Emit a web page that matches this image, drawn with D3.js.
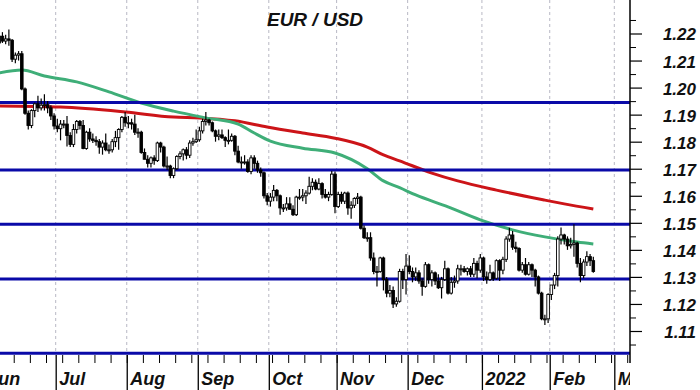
<!DOCTYPE html>
<html>
<head>
<meta charset="utf-8">
<script src="https://cdn.jsdelivr.net/npm/d3@7"></script>
<style>
  body { margin: 0; background: #fff; }
  text { font-family: "Liberation Sans", Arial, sans-serif; font-weight: bold; font-style: italic; fill: #111; }
</style>
</head>
<body>
<svg id="chart" width="700" height="390"></svg>
<script>
// daily bars [open, high, low, close], one array per month
const jun21 = [
  [1.2165,1.2200,1.2155,1.2190],[1.2190,1.2205,1.2165,1.2172],[1.2172,1.2195,1.2160,1.2180],
  [1.2180,1.2215,1.2155,1.2175],[1.2175,1.2180,1.2095,1.2105],[1.2105,1.2130,1.2090,1.2120],
  [1.2120,1.2135,1.2100,1.2125],[1.2125,1.2135,1.1990,1.1995],[1.1995,1.2000,1.1900,1.1905],
  [1.1905,1.1915,1.1845,1.1860],[1.1860,1.1920,1.1850,1.1915],[1.1915,1.1945,1.1890,1.1940],
  [1.1940,1.1970,1.1910,1.1925],[1.1925,1.1960,1.1915,1.1935],[1.1935,1.1975,1.1915,1.1937],
  [1.1937,1.1950,1.1905,1.1925],[1.1925,1.1935,1.1880,1.1895],[1.1895,1.1905,1.1845,1.1858]
];
const jul21 = [
  [1.1858,1.1885,1.1835,1.1848],[1.1848,1.1880,1.1805,1.1865],[1.1865,1.1880,1.1850,1.1865],
  [1.1865,1.1895,1.1782,1.1823],[1.1823,1.1835,1.1780,1.1790],[1.1790,1.1865,1.1780,1.1845],
  [1.1845,1.1880,1.1830,1.1875],[1.1875,1.1880,1.1845,1.1860],[1.1860,1.1880,1.1772,1.1775],
  [1.1775,1.1840,1.1770,1.1835],[1.1835,1.1850,1.1800,1.1810],[1.1810,1.1830,1.1795,1.1805],
  [1.1805,1.1820,1.1785,1.1800],[1.1800,1.1810,1.1755,1.1780],[1.1780,1.1805,1.1752,1.1795],
  [1.1795,1.1830,1.1765,1.1770],[1.1770,1.1790,1.1755,1.1770],[1.1770,1.1810,1.1760,1.1800],
  [1.1800,1.1840,1.1780,1.1815],[1.1815,1.1850,1.1770,1.1845],[1.1845,1.1895,1.1835,1.1890],
  [1.1890,1.1910,1.1855,1.1870]
];
const aug21 = [
  [1.1870,1.1895,1.1850,1.1870],[1.1870,1.1885,1.1845,1.1865],[1.1865,1.1900,1.1825,1.1835],
  [1.1835,1.1850,1.1815,1.1835],[1.1835,1.1840,1.1755,1.1760],[1.1760,1.1775,1.1735,1.1735],
  [1.1735,1.1750,1.1705,1.1720],[1.1720,1.1745,1.1705,1.1740],[1.1740,1.1750,1.1715,1.1730],
  [1.1730,1.1800,1.1725,1.1795],[1.1795,1.1800,1.1760,1.1780],[1.1780,1.1785,1.1705,1.1710],
  [1.1710,1.1745,1.1695,1.1710],[1.1710,1.1715,1.1665,1.1675],[1.1675,1.1705,1.1665,1.1700],
  [1.1700,1.1750,1.1695,1.1745],[1.1745,1.1765,1.1735,1.1755],[1.1755,1.1775,1.1730,1.1770],
  [1.1770,1.1780,1.1735,1.1750],[1.1750,1.1805,1.1740,1.1795],[1.1795,1.1815,1.1785,1.1800],
  [1.1800,1.1845,1.1795,1.1807]
];
const sep21 = [
  [1.1807,1.1855,1.1800,1.1840],[1.1840,1.1885,1.1830,1.1875],[1.1875,1.1910,1.1860,1.1880],
  [1.1880,1.1885,1.1860,1.1870],[1.1870,1.1875,1.1835,1.1840],[1.1840,1.1845,1.1800,1.1820],
  [1.1820,1.1845,1.1805,1.1825],[1.1825,1.1845,1.1810,1.1815],[1.1815,1.1820,1.1780,1.1805],
  [1.1805,1.1845,1.1790,1.1805],[1.1805,1.1830,1.1800,1.1820],[1.1820,1.1825,1.1750,1.1765],
  [1.1765,1.1785,1.1720,1.1725],[1.1725,1.1745,1.1700,1.1725],[1.1725,1.1750,1.1715,1.1725],
  [1.1725,1.1735,1.1685,1.1690],[1.1690,1.1750,1.1680,1.1740],[1.1740,1.1750,1.1700,1.1720],
  [1.1720,1.1730,1.1685,1.1695],[1.1695,1.1705,1.1670,1.1685],[1.1685,1.1690,1.1590,1.1600],
  [1.1600,1.1610,1.1565,1.1580]
];
const oct21 = [
  [1.1580,1.1610,1.1560,1.1595],[1.1595,1.1640,1.1580,1.1620],[1.1620,1.1625,1.1580,1.1600],
  [1.1600,1.1605,1.1530,1.1555],[1.1555,1.1570,1.1540,1.1555],[1.1555,1.1595,1.1545,1.1570],
  [1.1570,1.1595,1.1550,1.1550],[1.1550,1.1565,1.1525,1.1530],[1.1530,1.1600,1.1525,1.1595],
  [1.1595,1.1625,1.1585,1.1595],[1.1595,1.1625,1.1580,1.1600],[1.1600,1.1620,1.1570,1.1610],
  [1.1610,1.1670,1.1605,1.1635],[1.1635,1.1665,1.1620,1.1650],[1.1650,1.1660,1.1620,1.1625],
  [1.1625,1.1665,1.1620,1.1645],[1.1645,1.1650,1.1590,1.1605],[1.1605,1.1625,1.1590,1.1595],
  [1.1595,1.1615,1.1580,1.1605],[1.1605,1.1692,1.1600,1.1680],[1.1680,1.1690,1.1535,1.1560]
];
const nov21 = [
  [1.1560,1.1615,1.1555,1.1605],[1.1605,1.1615,1.1570,1.1580],[1.1580,1.1615,1.1570,1.1610],
  [1.1610,1.1616,1.1530,1.1555],[1.1555,1.1580,1.1515,1.1565],[1.1565,1.1595,1.1555,1.1590],
  [1.1590,1.1610,1.1570,1.1595],[1.1595,1.1600,1.1475,1.1480],[1.1480,1.1490,1.1440,1.1445],
  [1.1445,1.1465,1.1430,1.1445],[1.1445,1.1465,1.1360,1.1370],[1.1370,1.1390,1.1310,1.1320],
  [1.1320,1.1340,1.1265,1.1320],[1.1320,1.1375,1.1315,1.1370],[1.1370,1.1375,1.1250,1.1290],
  [1.1290,1.1300,1.1225,1.1240],[1.1240,1.1270,1.1225,1.1250],[1.1250,1.1265,1.1185,1.1200],
  [1.1200,1.1225,1.1190,1.1210],[1.1210,1.1330,1.1205,1.1320],[1.1320,1.1330,1.1255,1.1290],
  [1.1290,1.1385,1.1235,1.1340]
];
const dec21 = [
  [1.1340,1.1380,1.1310,1.1320],[1.1320,1.1335,1.1280,1.1300],[1.1300,1.1335,1.1285,1.1315],
  [1.1315,1.1325,1.1275,1.1285],[1.1285,1.1295,1.1230,1.1265],[1.1265,1.1355,1.1260,1.1345],
  [1.1345,1.1350,1.1275,1.1290],[1.1290,1.1325,1.1265,1.1315],[1.1315,1.1320,1.1270,1.1285],
  [1.1285,1.1310,1.1255,1.1260],[1.1260,1.1300,1.1220,1.1290],[1.1290,1.1360,1.1285,1.1330],
  [1.1330,1.1335,1.1235,1.1240],[1.1240,1.1300,1.1235,1.1280],[1.1280,1.1305,1.1260,1.1285],
  [1.1285,1.1345,1.1275,1.1330],[1.1330,1.1345,1.1305,1.1330],[1.1330,1.1340,1.1315,1.1320],
  [1.1320,1.1335,1.1305,1.1330],[1.1330,1.1340,1.1300,1.1310],[1.1310,1.1370,1.1300,1.1350],
  [1.1350,1.1360,1.1295,1.1325],[1.1325,1.1385,1.1315,1.1370]
];
const jan22 = [
  [1.1370,1.1375,1.1285,1.1300],[1.1300,1.1320,1.1275,1.1290],[1.1290,1.1345,1.1285,1.1315],
  [1.1315,1.1320,1.1285,1.1295],[1.1295,1.1365,1.1290,1.1360],[1.1360,1.1365,1.1285,1.1325],
  [1.1325,1.1375,1.1310,1.1365],[1.1365,1.1450,1.1355,1.1440],[1.1440,1.1482,1.1430,1.1455],
  [1.1455,1.1470,1.1400,1.1410],[1.1410,1.1430,1.1390,1.1405],[1.1405,1.1410,1.1320,1.1325],
  [1.1325,1.1355,1.1315,1.1345],[1.1345,1.1370,1.1305,1.1310],[1.1310,1.1355,1.1305,1.1345],
  [1.1345,1.1350,1.1300,1.1325],[1.1325,1.1330,1.1265,1.1300],[1.1300,1.1305,1.1235,1.1240],
  [1.1240,1.1245,1.1140,1.1145],[1.1145,1.1160,1.1122,1.1145],[1.1145,1.1240,1.1130,1.1235]
];
const feb22 = [
  [1.1235,1.1270,1.1215,1.1270],[1.1270,1.1315,1.1255,1.1305],[1.1305,1.1450,1.1265,1.1440],
  [1.1440,1.1483,1.1420,1.1455],[1.1455,1.1460,1.1420,1.1440],[1.1440,1.1450,1.1400,1.1415],
  [1.1415,1.1445,1.1405,1.1420],[1.1420,1.1495,1.1375,1.1425],[1.1425,1.1430,1.1335,1.1350],
  [1.1350,1.1370,1.1280,1.1305],[1.1305,1.1365,1.1295,1.1355],[1.1355,1.1395,1.1340,1.1375],
  [1.1375,1.1385,1.1340,1.1360],[1.1360,1.1375,1.1315,1.1320]
];
const firstBarDate = "2021-06-07";

// moving averages
const greenDates = ["2021-06-07","2021-06-16","2021-06-25","2021-07-09","2021-07-23","2021-08-06",
  "2021-08-20","2021-09-03","2021-09-17","2021-09-24","2021-10-01","2021-10-15","2021-10-29",
  "2021-11-12","2021-11-19","2021-11-26","2021-12-03","2021-12-17","2021-12-31","2022-01-14",
  "2022-01-28","2022-02-11","2022-02-18"];
const greenMA = [1.2054,1.2065,1.2043,1.2021,1.1984,1.1943,1.1913,1.1888,1.1865,1.1832,1.1802,
  1.1776,1.1758,1.1700,1.1655,1.1630,1.1603,1.1559,1.1511,1.1474,1.1448,1.1429,1.1422];
const redDates = ["2021-06-07","2021-07-02","2021-07-30","2021-08-20","2021-09-01","2021-09-16",
  "2021-09-30","2021-10-15","2021-10-29","2021-11-12","2021-11-19","2021-11-26","2021-12-10",
  "2021-12-22","2022-01-07","2022-01-28","2022-02-07","2022-02-18"];
const redMA = [1.1932,1.1928,1.1910,1.1891,1.1888,1.1877,1.1854,1.1832,1.1813,1.1780,1.1751,
  1.1729,1.1684,1.1655,1.1621,1.1584,1.1570,1.1551];

// horizontal levels, y ticks
const levels = [1.1945, 1.1695, 1.1495, 1.1292, 1.1018];
const majorTicks = [1.11,1.12,1.13,1.14,1.15,1.16,1.17,1.18,1.19,1.20,1.21,1.22];
const minorTicks = [1.105,1.115,1.125,1.135,1.145,1.155,1.165,1.175,1.185,1.195,1.205,1.215,1.225];
const monthNames = ["Jan","Feb","Mar","Apr","May","Jun","Jul","Aug","Sep","Oct","Nov","Dec"];

const plotRight = 630;
const plotBottom = 354;

const parse = d3.timeParse("%Y-%m-%d");
const days = d3.timeDay.range(new Date(2021, 5, 1), new Date(2022, 3, 1))
  .filter((d) => d.getDay() !== 0 && d.getDay() !== 6);
const dayIndex = (s) => {
  const t = +parse(s);
  return days.findIndex((d) => +d === t);
};

const start = dayIndex(firstBarDate);
const bars = [].concat(jun21, jul21, aug21, sep21, oct21, nov21, dec21, jan22, feb22)
  .map((b, i) => ({ i: start + i, o: b[0], h: b[1], l: b[2], c: b[3] }));

const x = d3.scaleLinear()
  .domain([dayIndex("2021-07-01"), dayIndex("2022-03-01")])
  .range([55.7, 614.3]);
const y = d3.scaleLinear().domain([1.11, 1.22]).range([331, 33.5]);

const svg = d3.select("#chart");
svg.append("rect").attr("width", 700).attr("height", 390).attr("fill", "#fff");

svg.append("defs").append("clipPath").attr("id", "clip")
  .append("rect").attr("x", 0).attr("y", 0).attr("width", plotRight).attr("height", 390);

const plot = svg.append("g").attr("clip-path", "url(#clip)");

const monthStarts = days.map((d, i) => i).filter((i) => i === 0 || days[i].getMonth() !== days[i - 1].getMonth());
const mondays = days.map((d, i) => i).filter((i) => days[i].getDay() === 1);

// month gridlines
plot.selectAll(".grid")
  .data(monthStarts)
  .enter()
  .append("line")
  .attr("x1", (d) => x(d))
  .attr("x2", (d) => x(d))
  .attr("y1", 0)
  .attr("y2", plotBottom)
  .attr("stroke", "#b8b8c4")
  .attr("stroke-width", 1)
  .attr("stroke-dasharray", "3,3");

// moving averages
const maLine = d3.line()
  .x((d) => x(d[0] + 0.5))
  .y((d) => y(d[1]))
  .curve(d3.curveMonotoneX);

plot.append("path")
  .datum(redDates.map((s, k) => [dayIndex(s), redMA[k]]))
  .attr("d", maLine)
  .attr("fill", "none")
  .attr("stroke", "#cc1418")
  .attr("stroke-width", 3);

plot.append("path")
  .datum(greenDates.map((s, k) => [dayIndex(s), greenMA[k]]))
  .attr("d", maLine)
  .attr("fill", "none")
  .attr("stroke", "#3fae78")
  .attr("stroke-width", 3);

// level lines
plot.selectAll(".level")
  .data(levels)
  .enter()
  .append("line")
  .attr("x1", 0)
  .attr("x2", plotRight)
  .attr("y1", (d) => y(d))
  .attr("y2", (d) => y(d))
  .attr("stroke", "#0a0aa8")
  .attr("stroke-width", 3);

// candles
const candle = plot.selectAll(".bar")
  .data(bars)
  .enter()
  .append("g");

candle.append("line")
  .attr("x1", (d) => x(d.i + 0.5))
  .attr("x2", (d) => x(d.i + 0.5))
  .attr("y1", (d) => y(d.h))
  .attr("y2", (d) => y(d.l))
  .attr("stroke", "#000")
  .attr("stroke-width", 1.2);

candle.append("rect")
  .attr("x", (d) => x(d.i + 0.5) - 1.3)
  .attr("y", (d) => y(Math.max(d.o, d.c)))
  .attr("width", 2.6)
  .attr("height", (d) => Math.max(1, Math.abs(y(d.o) - y(d.c))))
  .attr("fill", (d) => (d.c >= d.o ? "#fff" : "#000"))
  .attr("stroke", "#000")
  .attr("stroke-width", 0.9);

// x axis: weekly ticks + month ticks with labels
const xMinor = d3.axisBottom(x).tickValues(mondays).tickSize(8).tickFormat("");
plot.append("g")
  .attr("transform", `translate(0, ${plotBottom + 1})`)
  .call(xMinor)
  .call((g) => g.select(".domain").remove());

const xMajor = d3.axisBottom(x)
  .tickValues(monthStarts)
  .tickSize(36)
  .tickFormat((i) => (days[i].getMonth() === 0 ? String(days[i].getFullYear()) : monthNames[days[i].getMonth()]));

plot.append("g")
  .attr("transform", `translate(0, ${plotBottom + 1})`)
  .call(xMajor)
  .call((g) => g.select(".domain").remove())
  .call((g) => g.selectAll(".tick line").attr("stroke-width", 1.3))
  .call((g) => g.selectAll("text")
    .attr("x", 3)
    .attr("y", 30)
    .attr("dy", 0)
    .attr("text-anchor", "start")
    .style("font-size", "18px"));

// y axis on the right
svg.append("line")
  .attr("x1", plotRight).attr("x2", plotRight)
  .attr("y1", 0).attr("y2", 363)
  .attr("stroke", "#000").attr("stroke-width", 1.5);

svg.append("g")
  .attr("transform", `translate(${plotRight}, 0)`)
  .call(d3.axisRight(y).tickValues(minorTicks).tickSize(6).tickFormat(""))
  .call((g) => g.select(".domain").remove());

svg.append("g")
  .attr("transform", `translate(${plotRight}, 0)`)
  .call(d3.axisRight(y).tickValues(majorTicks).tickSize(12).tickFormat(d3.format(".2f")))
  .call((g) => g.select(".domain").remove())
  .call((g) => g.selectAll(".tick line").attr("stroke-width", 1.2))
  .call((g) => g.selectAll("text")
    .attr("x", 66)
    .attr("dy", "0.38em")
    .attr("text-anchor", "end")
    .style("font-size", "17px"));

// title
svg.append("text")
  .attr("x", 315)
  .attr("y", 26)
  .attr("text-anchor", "middle")
  .style("font-size", "19px")
  .text("EUR / USD");
</script>
</body>
</html>
